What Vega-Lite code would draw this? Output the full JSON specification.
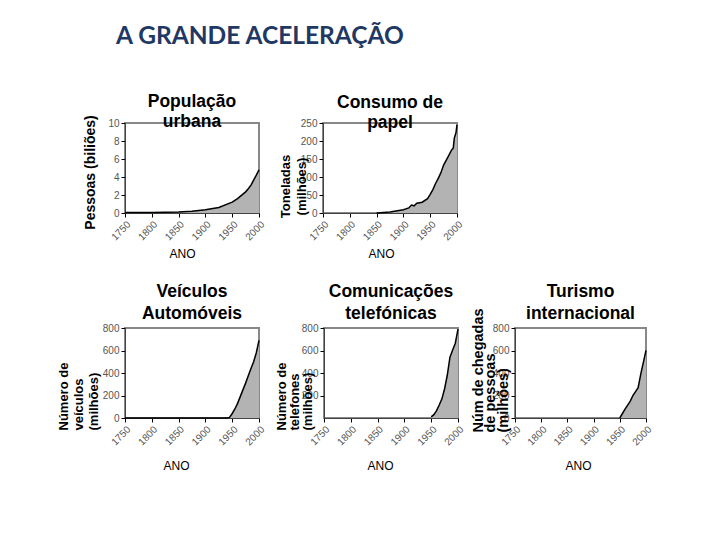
{
  "$schema": "https://vega.github.io/schema/vega-lite/v6.json",
  "background": "white",
  "padding": {"left": 56, "top": 23, "right": 5, "bottom": 5},
  "title": {"text": "A GRANDE ACELERAÇÃO", "anchor": "start", "frame": "group", "font": "Lato", "fontSize": 24.5, "fontWeight": "bold", "color": "#1F3864", "offset": 43, "dx": -9},
  "bounds": "flush",
  "spacing": 205,
  "config": {
    "view": {"stroke": "#888888", "strokeWidth": 2},
    "axis": {"labelFont": "Liberation Sans", "labelFontSize": 10, "labelColor": "#555555", "titleFont": "Liberation Sans", "titleColor": "#000000", "tickColor": "#000000", "tickSize": 4, "domainColor": "#444444", "grid": false, "labelPadding": 2},
    "axisX": {"labelAngle": -45, "labelAlign": "right", "labelBaseline": "top", "titleFontSize": 12, "titleFontWeight": "normal", "titleBaseline": "middle", "titleAlign": "center"},
    "axisY": {"titleFontSize": 13, "titleFontWeight": "bold", "titleAngle": -90, "titleBaseline": "top"},
    "title": {"font": "Liberation Sans", "fontSize": 17.5, "fontWeight": "bold", "color": "#000000"},
    "area": {"color": "#b3b3b3"},
    "line": {"color": "#000000", "strokeWidth": 1.5}
  },
  "vconcat": [
    {
      "hconcat": [
        {
          "width": 134, "height": 90,
          "title": {"text": ["População", "urbana"], "offset": -18, "lineHeight": 20},
          "data": {"values": [
            {"ano": 1750, "v": 0.05}, {"ano": 1800, "v": 0.06}, {"ano": 1850, "v": 0.1}, {"ano": 1875, "v": 0.2},
            {"ano": 1900, "v": 0.35}, {"ano": 1925, "v": 0.62}, {"ano": 1950, "v": 1.2}, {"ano": 1960, "v": 1.6},
            {"ano": 1970, "v": 2.1}, {"ano": 1975, "v": 2.35}, {"ano": 1980, "v": 2.7}, {"ano": 1985, "v": 3.1},
            {"ano": 1990, "v": 3.65}, {"ano": 1995, "v": 4.2}, {"ano": 2000, "v": 4.8}
          ]},
          "encoding": {
            "x": {"field": "ano", "type": "quantitative", "scale": {"domain": [1750, 2000], "nice": false, "zero": false},
                  "axis": {"values": [1750, 1800, 1850, 1900, 1950, 2000], "format": "d", "title": "ANO", "titleX": 57, "titleY": 40}},
            "y": {"field": "v", "type": "quantitative", "scale": {"domain": [0, 10], "nice": false},
                  "axis": {"values": [0, 2, 4, 6, 8, 10], "title": "Pessoas  (biliões)", "titleFontSize": 14, "titleX": -42, "titleY": 49, "titleAlign": "center"}}
          },
          "layer": [{"mark": "area"}, {"mark": "line"}]
        },
        {
          "width": 134, "height": 90,
          "title": {"text": ["Consumo de", "papel"], "offset": -13, "lineHeight": 20},
          "data": {"values": [
            {"ano": 1850, "v": 0}, {"ano": 1875, "v": 3}, {"ano": 1900, "v": 9}, {"ano": 1910, "v": 14},
            {"ano": 1915, "v": 22}, {"ano": 1920, "v": 20}, {"ano": 1925, "v": 27}, {"ano": 1935, "v": 30},
            {"ano": 1945, "v": 40}, {"ano": 1950, "v": 52}, {"ano": 1955, "v": 65}, {"ano": 1960, "v": 82},
            {"ano": 1965, "v": 96}, {"ano": 1970, "v": 112}, {"ano": 1975, "v": 133}, {"ano": 1980, "v": 147},
            {"ano": 1985, "v": 161}, {"ano": 1990, "v": 175}, {"ano": 1993, "v": 180}, {"ano": 1995, "v": 208},
            {"ano": 1998, "v": 222}, {"ano": 2000, "v": 245}
          ]},
          "encoding": {
            "x": {"field": "ano", "type": "quantitative", "scale": {"domain": [1750, 2000], "nice": false, "zero": false},
                  "axis": {"values": [1750, 1800, 1850, 1900, 1950, 2000], "format": "d", "title": "ANO", "titleX": 58, "titleY": 40}},
            "y": {"field": "v", "type": "quantitative", "scale": {"domain": [0, 250], "nice": false},
                  "axis": {"values": [0, 50, 100, 150, 200, 250], "title": ["Toneladas", "(milhões)"], "titleLineHeight": 16, "titleX": -44, "titleY": 63, "titleAlign": "center"}}
          },
          "layer": [{"mark": "area"}, {"mark": "line"}]
        }
      ],
      "spacing": 64,
      "bounds": "flush"
    },
    {
      "hconcat": [
        {
          "width": 134, "height": 90,
          "title": {"text": ["Veículos", "Automóveis"], "offset": 1, "lineHeight": 22},
          "data": {"values": [
            {"ano": 1750, "v": 0}, {"ano": 1850, "v": 0}, {"ano": 1900, "v": 0}, {"ano": 1940, "v": 0},
            {"ano": 1945, "v": 5}, {"ano": 1950, "v": 40}, {"ano": 1955, "v": 80}, {"ano": 1960, "v": 130},
            {"ano": 1965, "v": 190}, {"ano": 1970, "v": 250}, {"ano": 1975, "v": 310}, {"ano": 1980, "v": 375},
            {"ano": 1985, "v": 440}, {"ano": 1990, "v": 500}, {"ano": 1995, "v": 580}, {"ano": 2000, "v": 690}
          ]},
          "encoding": {
            "x": {"field": "ano", "type": "quantitative", "scale": {"domain": [1750, 2000], "nice": false, "zero": false},
                  "axis": {"values": [1750, 1800, 1850, 1900, 1950, 2000], "format": "d", "title": "ANO", "titleX": 51, "titleY": 47}},
            "y": {"field": "v", "type": "quantitative", "scale": {"domain": [0, 800], "nice": false},
                  "axis": {"values": [0, 200, 400, 600, 800], "title": ["Número de", "veículos", "(milhões)"], "titleLineHeight": 15, "titleX": -68, "titleY": 102, "titleAlign": "left"}}
          },
          "layer": [{"mark": "area"}, {"mark": "line"}]
        },
        {
          "hconcat": [
            {
              "width": 134, "height": 90,
              "title": {"text": ["Comunicações", "telefónicas"], "offset": 1, "lineHeight": 22},
              "data": {"values": [
                {"ano": 1950, "v": 10}, {"ano": 1955, "v": 30}, {"ano": 1960, "v": 65}, {"ano": 1965, "v": 115},
                {"ano": 1970, "v": 170}, {"ano": 1975, "v": 260}, {"ano": 1980, "v": 380}, {"ano": 1985, "v": 540},
                {"ano": 1990, "v": 604}, {"ano": 1995, "v": 665}, {"ano": 2000, "v": 790}
              ]},
              "encoding": {
                "x": {"field": "ano", "type": "quantitative", "scale": {"domain": [1750, 2000], "nice": false, "zero": false},
                      "axis": {"values": [1750, 1800, 1850, 1900, 1950, 2000], "format": "d", "title": "ANO", "titleX": 56, "titleY": 47}},
                "y": {"field": "v", "type": "quantitative", "scale": {"domain": [0, 800], "nice": false},
                      "axis": {"values": [200, 400, 600, 800], "title": ["Número de", "telefones", "(milhões)"], "titleLineHeight": 13, "titleX": -49, "titleY": 102, "titleAlign": "left"}}
              },
              "layer": [{"mark": "area"}, {"mark": "line"}]
            },
            {
              "width": 131, "height": 90,
              "title": {"text": ["Turismo", "internacional"], "offset": -15, "lineHeight": 22},
              "data": {"values": [
                {"ano": 1950, "v": 0}, {"ano": 1955, "v": 40}, {"ano": 1960, "v": 78}, {"ano": 1965, "v": 115},
                {"ano": 1970, "v": 150}, {"ano": 1975, "v": 200}, {"ano": 1980, "v": 235}, {"ano": 1985, "v": 270},
                {"ano": 1990, "v": 390}, {"ano": 1995, "v": 495}, {"ano": 2000, "v": 600}
              ]},
              "encoding": {
                "x": {"field": "ano", "type": "quantitative", "scale": {"domain": [1750, 2000], "nice": false, "zero": false},
                      "axis": {"values": [1750, 1800, 1850, 1900, 1950, 2000], "format": "d", "title": "ANO", "titleX": 63, "titleY": 47}},
                "y": {"field": "v", "type": "quantitative", "scale": {"domain": [0, 800], "nice": false},
                      "axis": {"values": [0, 200, 400, 600, 800], "title": ["Núm de chegadas", "de pessoas", "(milhões)"], "titleFontSize": 14.5, "titleLineHeight": 12.5, "titleX": -44, "titleY": 104, "titleAlign": "left"}}
              },
              "layer": [{"mark": "area"}, {"mark": "line"}]
            }
          ],
          "spacing": 57,
          "bounds": "flush"
        }
      ],
      "spacing": 65,
      "bounds": "flush"
    }
  ]
}
